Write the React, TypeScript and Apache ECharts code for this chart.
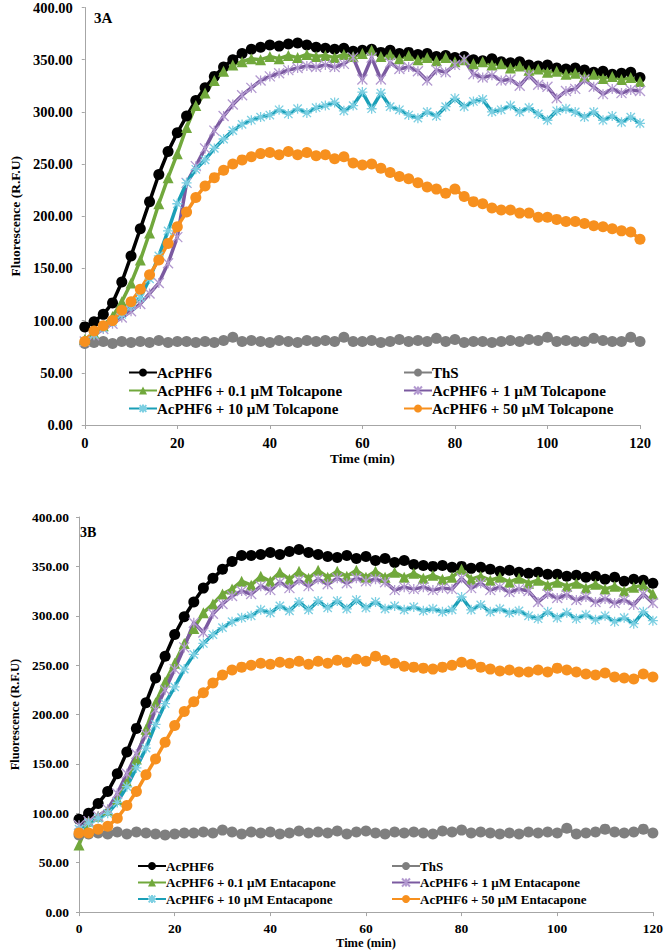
import React, { useEffect, useRef } from "react";
import * as echarts from "echarts";

const TIME = [0, 2, 4, 6, 8, 10, 12, 14, 16, 18, 20, 22, 24, 26, 28, 30, 32, 34, 36, 38, 40, 42, 44, 46, 48, 50, 52, 54, 56, 58, 60, 62, 64, 66, 68, 70, 72, 74, 76, 78, 80, 82, 84, 86, 88, 90, 92, 94, 96, 98, 100, 102, 104, 106, 108, 110, 112, 114, 116, 118, 120];

// 3A – Tolcapone
const A_AC = [94, 99, 106, 117, 137, 162, 188, 214, 240, 262, 280, 296, 311, 323, 334, 343, 350, 356, 360, 362, 364, 363, 365, 366, 364, 362, 361, 360, 361, 358, 359, 360, 357, 359, 356, 357, 355, 356, 353, 354, 352, 353, 350, 349, 351, 348, 347, 348, 345, 344, 345, 342, 341, 342, 340, 338, 339, 336, 337, 338, 333];
const A_THS = [78, 79, 80, 78, 80, 79, 80, 79, 81, 79, 80, 80, 79, 80, 79, 81, 84, 80, 81, 80, 79, 81, 80, 79, 81, 80, 81, 80, 84, 80, 80, 81, 79, 80, 82, 80, 81, 80, 83, 80, 82, 79, 80, 80, 79, 80, 81, 80, 82, 81, 84, 80, 81, 80, 80, 83, 81, 80, 80, 84, 80];
const A_01 = [82, 88, 95, 104, 118, 136, 158, 184, 212, 237, 260, 285, 306, 318, 330, 339, 345, 348, 351, 350, 353, 351, 354, 352, 355, 353, 354, 352, 355, 353, 356, 359, 353, 355, 351, 354, 350, 352, 349, 352, 348, 350, 346, 348, 345, 346, 342, 344, 340, 341, 338, 339, 336, 337, 334, 336, 332, 334, 331, 333, 329];
const A_1 = [80, 86, 92, 97, 103, 109, 116, 126, 136, 155, 180, 232, 248, 265, 282, 296, 307, 316, 323, 330, 334, 337, 340, 342, 344, 343, 345, 343, 346, 352, 331, 352, 331, 347, 341, 343, 339, 330, 340, 338, 345, 350, 336, 333, 335, 330, 331, 325, 335, 326, 324, 313, 320, 322, 331, 324, 317, 322, 318, 321, 320];
const A_10 = [80, 87, 93, 99, 106, 114, 122, 140, 162, 186, 212, 232, 245, 254, 265, 274, 282, 288, 292, 295, 297, 302, 298, 303, 299, 304, 306, 309, 301, 306, 319, 303, 318, 305, 302, 297, 294, 300, 296, 305, 313, 305, 310, 312, 300, 302, 306, 300, 304, 298, 292, 301, 303, 300, 295, 300, 292, 296, 290, 295, 289];
const A_50 = [80, 90, 95, 100, 110, 118, 130, 144, 158, 174, 190, 204, 218, 229, 237, 244, 250, 254, 257, 260, 261, 259, 262, 259, 261, 258, 259, 255, 257, 251, 249, 250, 246, 242, 238, 236, 232, 228, 226, 222, 226, 219, 214, 212, 208, 206, 206, 203, 203, 199, 199, 197, 195, 195, 193, 191, 190, 188, 186, 185, 178];

// 3B – Entacapone
const B_AC = [94, 100, 110, 122, 140, 162, 186, 212, 237, 259, 281, 299, 314, 328, 338, 347, 355, 361, 361, 362, 364, 362, 365, 367, 364, 362, 360, 359, 361, 358, 360, 356, 358, 354, 356, 352, 351, 350, 351, 349, 350, 348, 349, 347, 345, 346, 344, 343, 344, 342, 342, 340, 341, 339, 340, 337, 339, 335, 337, 336, 333];
const B_THS = [78, 79, 80, 79, 81, 79, 81, 80, 79, 78, 79, 80, 80, 81, 80, 83, 81, 79, 81, 80, 81, 79, 80, 82, 80, 81, 80, 82, 79, 81, 82, 80, 79, 81, 80, 81, 80, 79, 82, 81, 83, 80, 81, 80, 79, 80, 79, 81, 80, 81, 80, 85, 79, 80, 81, 84, 81, 80, 81, 84, 80];
const B_01 = [68, 92, 97, 103, 114, 132, 155, 185, 212, 233, 252, 272, 287, 303, 312, 322, 327, 335, 331, 340, 335, 344, 337, 345, 338, 346, 339, 345, 340, 346, 339, 345, 339, 344, 339, 343, 338, 341, 337, 339, 347, 337, 340, 336, 339, 334, 338, 333, 336, 331, 334, 330, 333, 328, 332, 327, 330, 325, 329, 331, 322];
const B_1 = [88, 92, 97, 104, 120, 140, 160, 180, 205, 225, 246, 268, 293, 283, 302, 312, 320, 325, 322, 330, 326, 334, 328, 336, 330, 337, 332, 338, 333, 338, 335, 337, 334, 326, 329, 327, 329, 326, 328, 327, 338, 328, 333, 326, 329, 324, 327, 325, 314, 322, 318, 321, 316, 319, 314, 317, 313, 316, 311, 322, 313];
const B_10 = [84, 90, 95, 100, 111, 127, 146, 166, 190, 211, 228, 246, 261, 272, 281, 288, 294, 298, 300, 306, 303, 310, 305, 314, 306, 315, 308, 315, 307, 316, 308, 314, 307, 310, 306, 309, 305, 307, 304, 306, 319, 306, 311, 304, 307, 303, 305, 300, 297, 304, 298, 303, 297, 301, 296, 300, 294, 298, 292, 304, 295];
const B_50 = [80, 80, 84, 87, 95, 108, 122, 139, 155, 172, 189, 203, 213, 222, 232, 240, 245, 248, 250, 252, 251, 253, 252, 254, 251, 254, 252, 255, 253, 256, 254, 259, 255, 252, 249, 248, 247, 246, 248, 250, 253, 251, 248, 246, 244, 245, 243, 243, 245, 243, 247, 245, 243, 241, 240, 242, 238, 237, 236, 241, 238];

const Y_TICKS = [0, 50, 100, 150, 200, 250, 300, 350, 400];
const X_TICKS = [0, 20, 40, 60, 80, 100, 120];

const NAMES_A = ["AcPHF6", "ThS", "AcPHF6 + 0.1 µM Tolcapone", "AcPHF6 + 1 µM Tolcapone", "AcPHF6 + 10 µM Tolcapone", "AcPHF6 + 50 µM Tolcapone"];
const NAMES_B = ["AcPHF6 ", "ThS ", "AcPHF6 + 0.1 µM Entacapone", "AcPHF6 + 1 µM Entacapone", "AcPHF6 + 10 µM Entacapone", "AcPHF6 + 50 µM Entacapone"];

const C_BLACK = "#000000";
const C_GRAY = "#7f7f7f";
const C_GREEN = "#71a83c";
const C_PURPLE = "#7b5aa0";
const C_TEAL = "#1a9fb7";
const C_ORANGE = "#f7901e";
const STAR = "path://M0,0L10,10M10,0L0,10M5,0L5,10";
const ASTER = "path://M0,0L10,10M10,0L0,10M5,-1L5,11M-1,5L11,5";

const FONT = "Liberation Serif";

function mk(name: string, vals: number[], color: string, symbol: string, size: number, idx: number, mColor?: string) {
  const isPath = symbol.startsWith("path");
  const mc = mColor || color;
  return {
    type: "line",
    name,
    xAxisIndex: idx,
    yAxisIndex: idx,
    data: TIME.map((t, i) => [t, vals[i]]),
    symbol,
    symbolSize: size,
    showAllSymbol: true,
    lineStyle: { color, width: 3.5 },
    itemStyle: isPath
      ? { color: mc, borderColor: mc, borderWidth: 1.3 }
      : { color: mc, borderWidth: 0 },
    emphasis: { disabled: true },
  };
}

function seriesFor(names: string[], d: number[][], idx: number) {
  return [
    mk(names[0], d[0], C_BLACK, "circle", 11, idx),
    mk(names[1], d[1], C_GRAY, "circle", 11, idx),
    mk(names[2], d[2], C_GREEN, "triangle", 11, idx),
    mk(names[3], d[3], C_PURPLE, STAR, 10, idx, "#b39ad0"),
    mk(names[4], d[4], C_TEAL, ASTER, 10, idx, "#7ccfe2"),
    mk(names[5], d[5], C_ORANGE, "circle", 11, idx),
  ];
}

function axes(idx: number, fs: number, yGap: number, xGap: number, yMargin: number, xMargin: number, nameFs: number) {
  const lineC = "#a6a6a6";
  const x = {
    type: "value",
    gridIndex: idx,
    min: X_TICKS[0],
    max: X_TICKS[X_TICKS.length - 1],
    interval: 20,
    name: "Time (min)",
    nameLocation: "middle",
    nameGap: xGap,
    nameTextStyle: { fontFamily: FONT, fontWeight: "bold", fontSize: nameFs, color: "#000" },
    axisLine: { show: true, lineStyle: { color: lineC, width: 1 } },
    axisTick: { show: true, length: 4, lineStyle: { color: lineC } },
    axisLabel: { fontFamily: FONT, fontWeight: "bold", fontSize: fs, color: "#000", margin: xMargin },
    splitLine: { show: false },
  };
  const y = {
    type: "value",
    gridIndex: idx,
    min: Y_TICKS[0],
    max: Y_TICKS[Y_TICKS.length - 1],
    interval: 50,
    name: "Fluorescence (R.F.U)",
    nameLocation: "middle",
    nameGap: yGap,
    nameRotate: 90,
    nameTextStyle: { fontFamily: FONT, fontWeight: "bold", fontSize: nameFs, color: "#000" },
    axisLine: { show: true, lineStyle: { color: lineC, width: 1 } },
    axisTick: { show: true, length: 3, lineStyle: { color: lineC } },
    axisLabel: {
      fontFamily: FONT,
      fontWeight: "bold",
      fontSize: fs,
      color: "#000",
      margin: yMargin,
      formatter: (v: number) => v.toFixed(2),
    },
    splitLine: { show: false },
  };
  return { x, y };
}

function legend(data: string[], left: number, top: number, fs: number, gap: number) {
  return {
    orient: "vertical",
    left,
    top,
    padding: 0,
    itemGap: gap,
    itemWidth: 28,
    itemHeight: 10,
    data,
    selectedMode: false,
    textStyle: { fontFamily: FONT, fontWeight: "bold", fontSize: fs, color: "#000", padding: [0, 0, 0, -5], lineHeight: 14 },
  };
}

export default function App() {
  const ref = useRef<HTMLDivElement>(null);
  useEffect(() => {
    if (!ref.current) return;
    const chart = echarts.init(ref.current, undefined, { renderer: "svg" });
    const a = axes(0, 14.5, 58, 26, 12, 10, 13.5);
    const b = axes(1, 13.5, 45, 18, 10, 9, 12.5);
    chart.setOption({
      animation: false,
      backgroundColor: "#ffffff",
      grid: [
        { left: 81, top: 7, width: 559, height: 418 },
        { left: 64, top: 517, width: 591, height: 400 },
      ],
      xAxis: [a.x, b.x],
      yAxis: [a.y, b.y],
      legend: [
        legend([NAMES_A[0], NAMES_A[2], NAMES_A[4]], 128, 365, 15, 3),
        legend([NAMES_A[1], NAMES_A[3], NAMES_A[5]], 403, 365, 15, 3),
        legend([NAMES_B[0], NAMES_B[2], NAMES_B[4]], 137, 859, 13, 2.5),
        legend([NAMES_B[1], NAMES_B[3], NAMES_B[5]], 391, 859, 13, 2.5),
      ],
      graphic: [
        { type: "text", left: 94, top: 10, style: { text: "3A", font: `bold 15px ${FONT}`, fill: "#000" } },
        { type: "text", left: 80, top: 525, style: { text: "3B", font: `bold 14px ${FONT}`, fill: "#000" } },
      ],
      series: [
        ...seriesFor(NAMES_A, [A_AC, A_THS, A_01, A_1, A_10, A_50], 0),
        ...seriesFor(NAMES_B, [B_AC, B_THS, B_01, B_1, B_10, B_50], 1),
      ],
    });
    return () => chart.dispose();
  }, []);
  return <div ref={ref} style={{ position: "absolute", left: 0, top: 0, width: 666, height: 950 }} />;
}
